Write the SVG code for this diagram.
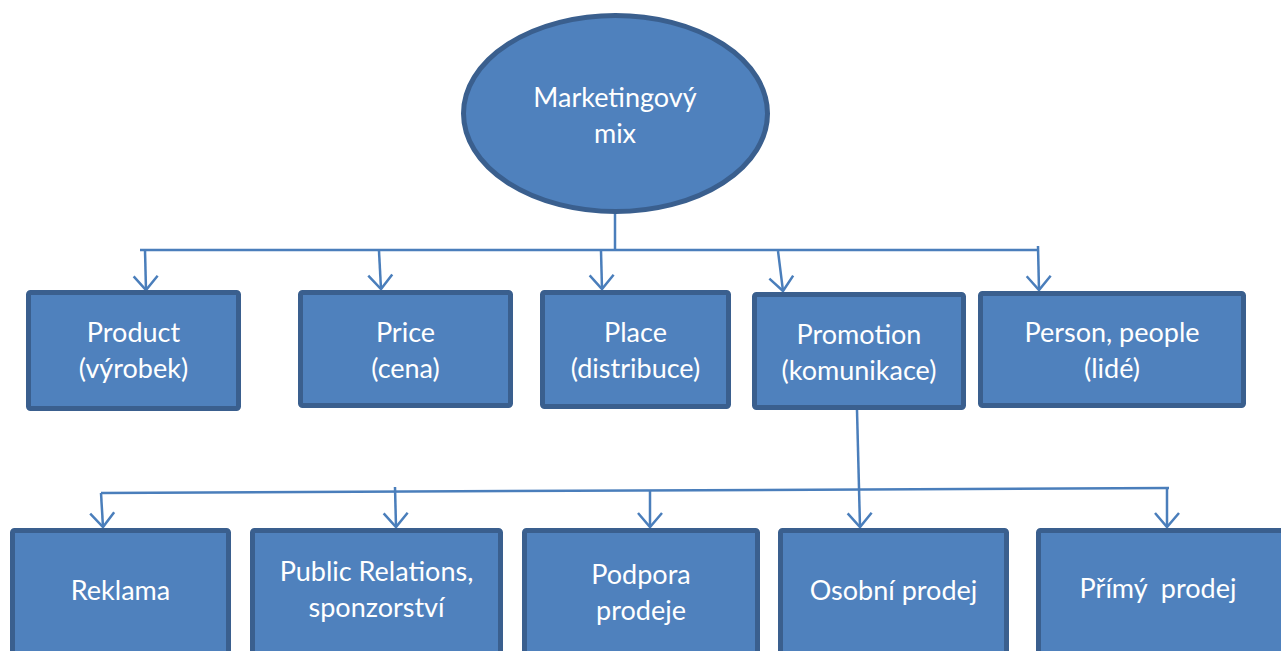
<svg xmlns="http://www.w3.org/2000/svg" width="1281" height="651" viewBox="0 0 1281 651">
<defs>
<style>
.box{fill:#4f81bd;stroke:#3a5f8e;stroke-width:5;}
.t{fill:#ffffff;font-family:Lato,"Open Sans","Liberation Sans",sans-serif;font-size:27px;text-anchor:middle;white-space:pre;}
.c{fill:none;stroke:#4a7ebb;stroke-width:2.5;}
.a{marker-end:url(#arr);}
</style>
<marker id="arr" markerUnits="userSpaceOnUse" markerWidth="30" markerHeight="30" viewBox="-16 -15 20 30" refX="0" refY="0" orient="auto">
<path d="M -14 -12 L 0 0 L -14 12" fill="none" stroke="#4a7ebb" stroke-width="2.5"/>
</marker>
</defs>
<rect width="1281" height="651" fill="#ffffff"/>
<g id="connectors">
<path class="c" d="M 615 212 L 615 250"/>
<path class="c" d="M 140 250 L 1039 250"/>
<path class="c a" d="M 145 250 L 146 290"/>
<path class="c a" d="M 379 251 L 381 289"/>
<path class="c a" d="M 601 251 L 602 289"/>
<path class="c a" d="M 778 251 L 783 291"/>
<path class="c a" d="M 1038 246 L 1039 290"/>
<path class="c a" d="M 857 410 L 860 527"/>
<path class="c" d="M 101 493 L 1169 488"/>
<path class="c a" d="M 101 493 L 103 527"/>
<path class="c a" d="M 395 487 L 396 527"/>
<path class="c a" d="M 650 490 L 650 527"/>
<path class="c a" d="M 1167 489 L 1167 527"/>
</g>
<g id="marketing-mix">
<ellipse class="box" cx="615.5" cy="113.5" rx="152" ry="98"/>
<text class="t" x="615" y="107">Marketingový</text>
<text class="t" x="615" y="143">mix</text>
</g>
<g id="product">
<rect class="box" x="28.5" y="292.5" width="210" height="116" rx="2"/>
<text class="t" x="133.5" y="342">Product</text>
<text class="t" x="133.5" y="378">(výrobek)</text>
</g>
<g id="price">
<rect class="box" x="300.5" y="292.5" width="210" height="113" rx="2"/>
<text class="t" x="405.5" y="342">Price</text>
<text class="t" x="405.5" y="378">(cena)</text>
</g>
<g id="place">
<rect class="box" x="542.5" y="292.5" width="186" height="114" rx="2"/>
<text class="t" x="635.5" y="342">Place</text>
<text class="t" x="635.5" y="378">(distribuce)</text>
</g>
<g id="promotion">
<rect class="box" x="754.5" y="294.5" width="209" height="113" rx="2"/>
<text class="t" x="859" y="344">Promotion</text>
<text class="t" x="859" y="380">(komunikace)</text>
</g>
<g id="person">
<rect class="box" x="980.5" y="293.5" width="263" height="112" rx="2"/>
<text class="t" x="1112" y="342">Person, people</text>
<text class="t" x="1112" y="378">(lidé)</text>
</g>
<g id="reklama">
<rect class="box" x="12.5" y="530.5" width="216" height="150" rx="2"/>
<text class="t" x="120.5" y="600">Reklama</text>
</g>
<g id="public-relations">
<rect class="box" x="252.5" y="530.5" width="248" height="150" rx="2"/>
<text class="t" x="376.5" y="581">Public Relations,</text>
<text class="t" x="376.5" y="617">sponzorství</text>
</g>
<g id="podpora">
<rect class="box" x="524.5" y="530.5" width="233" height="150" rx="2"/>
<text class="t" x="641" y="584">Podpora</text>
<text class="t" x="641" y="620">prodeje</text>
</g>
<g id="osobni">
<rect class="box" x="780.5" y="530.5" width="226" height="150" rx="2"/>
<text class="t" x="893.5" y="600">Osobní prodej</text>
</g>
<g id="primy">
<rect class="box" x="1038.5" y="530.5" width="250" height="150" rx="2"/>
<text class="t" x="1158" y="598">Přímý  prodej</text>
</g>
</svg>
